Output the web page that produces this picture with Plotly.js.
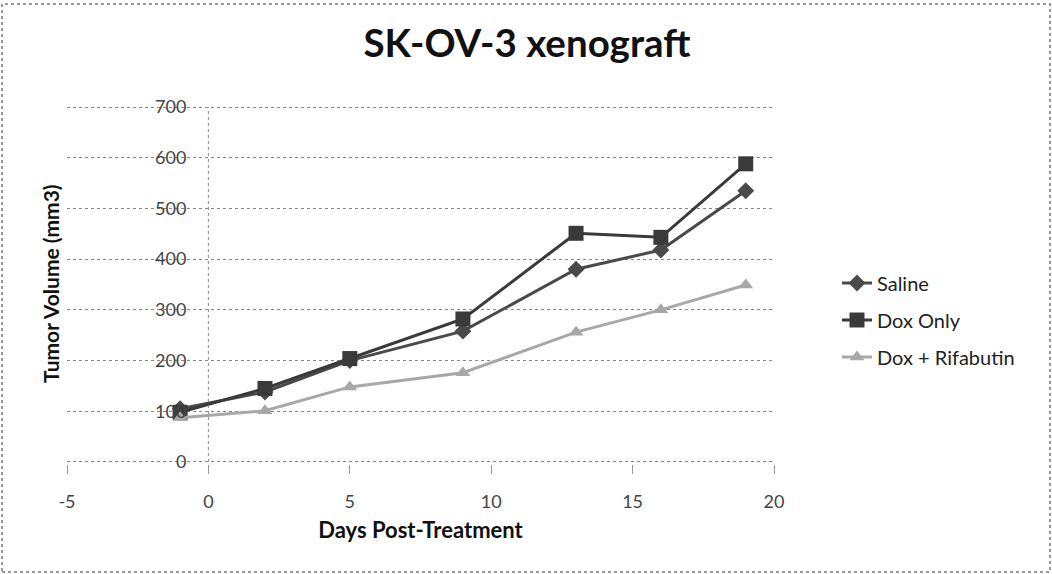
<!DOCTYPE html>
<html>
<head>
<meta charset="utf-8">
<script src="https://cdn.plot.ly/plotly-3.0.1.min.js"></script>
<style>
html,body{margin:0;padding:0;background:#fff;}
#chart{width:1052px;height:574px;}
</style>
</head>
<body>
<div id="chart"></div>
<script>
// Data
const days = [-1, 2, 5, 9, 13, 16, 19];
const saline = [105, 138, 200, 258, 380, 418, 535];
const doxOnly = [98, 145, 204, 282, 451, 443, 588];
const doxRifabutin = [87, 101, 148, 176, 256, 300, 349];
const seriesNames = ["Saline", "Dox Only", "Dox + Rifabutin"];
const xTicks = [-5, 0, 5, 10, 15, 20];
const yTicks = [0, 100, 200, 300, 400, 500, 600, 700];

const FONT = "Lato, 'Open Sans', sans-serif";
const xRange = [-5, 20];
const yPadUnits = 4;
const yRange = [0 - yPadUnits, 700 + yPadUnits];

const traces = [
  {x: days, y: saline, name: seriesNames[0], mode: "lines+markers", legendgroup: "a",
   line: {color: "#4a4a4a", width: 3},
   marker: {symbol: "diamond", size: 13, color: "#4a4a4a"}},
  {x: days, y: doxOnly, name: seriesNames[1], mode: "lines+markers", legendgroup: "b",
   line: {color: "#3a3a3a", width: 3},
   marker: {symbol: "square", size: 15, color: "#3a3a3a"}},
  {x: days, y: doxRifabutin, name: seriesNames[2], mode: "lines+markers", legendgroup: "c",
   line: {color: "#a8a8a8", width: 3},
   marker: {symbol: "triangle-up", size: 13, color: "#a8a8a8"}}
];

const W = 1052, H = 574;
const mL = 67, mR = W - 774, mT = 105, mB = H - 464;
const pw = W - mL - mR, ph = H - mT - mB;
const yPx = v => mT + ph * (yRange[1] - v) / (yRange[1] - yRange[0]);
const paperY = py => (H - mB - py) / ph;

const layout = {
  width: W, height: H,
  margin: {l: mL, r: mR, t: mT, b: mB, pad: 0},
  paper_bgcolor: "#fff", plot_bgcolor: "#fff",
  font: {family: FONT, size: 18, color: "#333"},
  title: {text: "SK-OV-3 xenograft", font: {family: FONT, size: 38.5, color: "#111", weight: "bold"},
          x: 527 / W, xref: "container", xanchor: "center", y: 1 - 44 / H, yref: "container", yanchor: "middle"},
  xaxis: {
    range: xRange, tickvals: xTicks, ticktext: xTicks.map(String),
    showgrid: false, zeroline: false, showline: false,
    ticks: "outside", ticklen: 9, tickwidth: 1, tickcolor: "#999",
    ticklabelstandoff: 12,
    tickfont: {family: FONT, size: 18, color: "#444"},
    title: {text: "Days Post-Treatment", font: {family: FONT, size: 22, color: "#111", weight: "bold"}, standoff: 12}
  },
  yaxis: {
    range: yRange, tickvals: yTicks, ticktext: yTicks.map(String),
    anchor: "free", position: (0 - xRange[0]) / (xRange[1] - xRange[0]),
    showgrid: true, gridcolor: "#888", griddash: "dot", gridwidth: 1,
    zeroline: false, showline: false, ticks: "",
    ticklabelstandoff: 22,
    tickfont: {family: FONT, size: 18, color: "#444"}
  },
  annotations: [
    {text: "Tumor Volume (mm3)", textangle: -90, xref: "paper", yref: "paper",
     x: (50 - mL) / pw, y: paperY(284), xanchor: "center", yanchor: "middle", showarrow: false,
     font: {family: FONT, size: 21, color: "#111", weight: "bold"}}
  ],
  showlegend: true,
  legend: {x: (837 - mL) / pw, xanchor: "left", y: paperY(320), yanchor: "middle",
           font: {family: FONT, size: 20, color: "#222"}, traceorder: "grouped", tracegroupgap: 8,
           itemwidth: 30, bgcolor: "rgba(0,0,0,0)"},
  shapes: [
    {type: "line", xref: "x", yref: "y", x0: 0, x1: 0, y0: 0, y1: 700,
     line: {color: "#888", width: 1, dash: "dot"}},
    {type: "rect", xref: "paper", yref: "paper",
     x0: (2 - mL) / pw, x1: (1050 - mL) / pw, y0: paperY(572), y1: paperY(4),
     line: {color: "#777", width: 1.5, dash: "dot"}, fillcolor: "rgba(0,0,0,0)", layer: "below"}
  ]
};

Plotly.newPlot("chart", traces, layout, {staticPlot: true});
</script>
</body>
</html>
